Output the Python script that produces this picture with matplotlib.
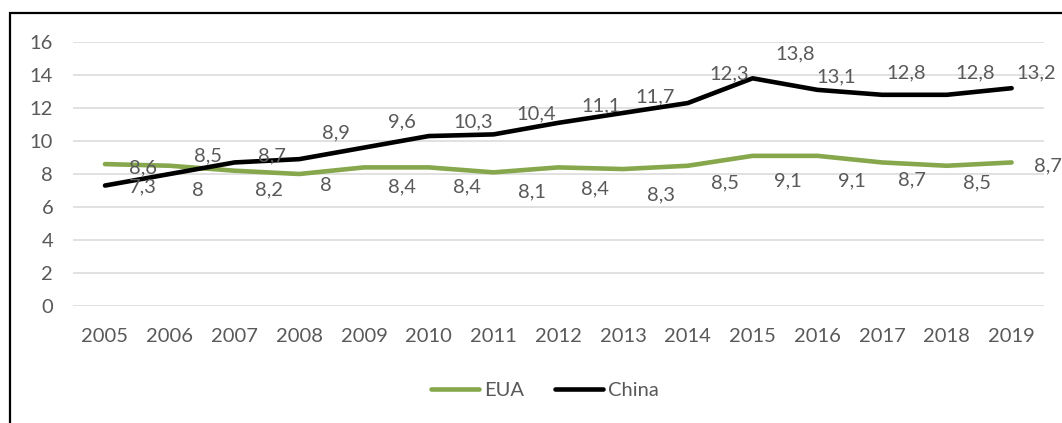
import matplotlib
matplotlib.use("Agg")
import matplotlib.pyplot as plt
from matplotlib.patches import Rectangle

years = ["2005", "2006", "2007", "2008", "2009", "2010", "2011", "2012",
         "2013", "2014", "2015", "2016", "2017", "2018", "2019"]
eua = [8.6, 8.5, 8.2, 8.0, 8.4, 8.4, 8.1, 8.4, 8.3, 8.5, 9.1, 9.1, 8.7, 8.5, 8.7]
china = [7.3, 8.0, 8.7, 8.9, 9.6, 10.3, 10.4, 11.1, 11.7, 12.3, 13.8, 13.1, 12.8, 12.8, 13.2]
yticks = [0, 2, 4, 6, 8, 10, 12, 14, 16]

# label offsets in pixels (dx right, dy down) relative to each point
eua_off = [(38, 4), (38, -10), (34, 19), (27, 11), (38, 19), (38, 19), (38, 20), (37, 21),
           (38, 26), (37, 17), (35, 25), (35, 25), (30, 17), (30, 17), (36, 3)]
china_off = [(38, 1), (28, 16), (37, -7), (37, -26), (38, -26), (44, -14), (43, -21), (43, -17),
             (32, -16), (41, -29), (43, -24), (19, -13), (24, -22), (28, -22), (25, -15)]

GREEN = "#86a74c"
GREY = "#595959"
FONT = "Lato"
FS = 14.5

plt.rcParams['font.family'] = [FONT, 'DejaVu Sans']

W, H = 1062, 423
fig = plt.figure(figsize=(W / 100, H / 100), dpi=100)
ax = fig.add_axes([72.6 / W, 1 - 306 / H, (1044 - 72.6) / W, (306 - 42) / H])

x = list(range(len(years)))
ax.plot(x, eua, color=GREEN, lw=3.3, label="EUA", solid_capstyle="round", zorder=3)
ax.plot(x, china, color="black", lw=3.3, label="China", solid_capstyle="round", zorder=4)

def fmt(v):
    s = f"{v:.1f}"
    if s.endswith(".0"):
        s = s[:-2]
    return s.replace(".", ",")

for xi, v, (dx, dy) in zip(x, eua, eua_off):
    ax.annotate(fmt(v), (xi, v), xytext=(dx, -dy), textcoords="offset pixels",
                ha="center", va="center", color=GREY, fontsize=FS, annotation_clip=False, zorder=5)
for xi, v, (dx, dy) in zip(x, china, china_off):
    ax.annotate(fmt(v), (xi, v), xytext=(dx, -dy), textcoords="offset pixels",
                ha="center", va="center", color=GREY, fontsize=FS, annotation_clip=False, zorder=5)

ax.set_xlim(-0.5, len(years) - 0.5)
ax.set_ylim(0, 16)
ax.set_yticks(yticks)
ax.set_yticklabels([str(t) for t in yticks])
ax.set_xticks(x)
ax.set_xticklabels(years)
ax.tick_params(axis="both", length=0, labelsize=FS, colors=GREY)
ax.tick_params(axis="y", pad=14)
ax.tick_params(axis="x", pad=16)
ax.grid(axis="y", color="#dcdcdc", lw=1.2, zorder=0)
ax.set_axisbelow(True)
for s in ax.spines.values():
    s.set_visible(False)

leg = fig.legend(loc="center", bbox_to_anchor=(545 / W, 1 - 390 / H), ncol=2, frameon=False,
                 fontsize=FS, handlelength=2.4, handletextpad=0.25, columnspacing=1.5)
for t in leg.get_texts():
    t.set_color(GREY)

fig.patches.append(Rectangle((10 / W, -0.5), 2.0, 1.5 - 13 / H, transform=fig.transFigure,
                             fill=False, edgecolor="black", lw=1.6))

fig.savefig("out.png", dpi=100)
